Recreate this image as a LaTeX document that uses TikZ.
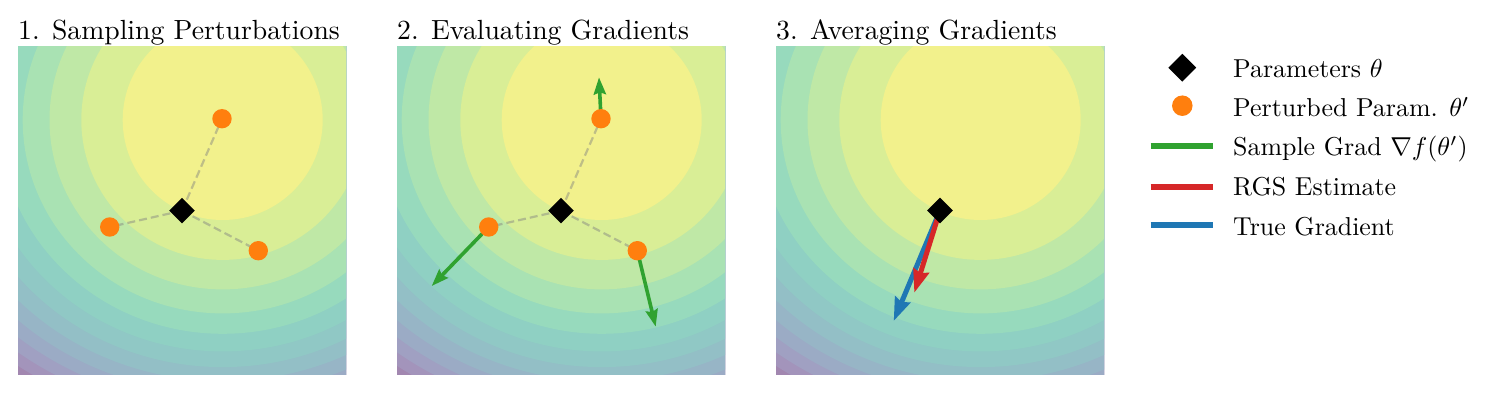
\documentclass[tikz,border=0pt]{standalone}
\usepackage{graphicx}
\usetikzlibrary{arrows.meta,shapes.geometric}
\definecolor{b1}{RGB}{242,241,140}
\definecolor{b2}{RGB}{217,238,150}
\definecolor{b3}{RGB}{191,232,166}
\definecolor{b4}{RGB}{169,226,179}
\definecolor{b5}{RGB}{151,218,189}
\definecolor{b6}{RGB}{143,208,195}
\definecolor{b7}{RGB}{144,200,197}
\definecolor{b8}{RGB}{147,191,198}
\definecolor{b9}{RGB}{151,181,198}
\definecolor{b10}{RGB}{155,171,197}
\definecolor{b11}{RGB}{160,160,194}
\definecolor{b12}{RGB}{163,148,187}
\definecolor{b13}{RGB}{162,135,176}
\definecolor{mplorange}{RGB}{255,127,14}
\definecolor{mplgreen}{RGB}{48,162,48}
\definecolor{mplred}{RGB}{214,39,40}
\definecolor{mplblue}{RGB}{31,119,180}
\newcommand{\ttlbox}[1]{\scalebox{2.77}{\fontsize{10}{12}\selectfont #1}}
\newcommand{\legbox}[1]{\scalebox{2.59}{\fontsize{10}{12}\selectfont #1}}
\tikzset{
  thetanode/.style={diamond,fill=black,inner sep=0pt,minimum width=25.7pt,minimum height=25.7pt},
  pertnode/.style={circle,fill=mplorange,inner sep=0pt,minimum size=19.4pt},
  dashline/.style={draw=gray,opacity=0.45,line width=2.2pt,dash pattern=on 8pt off 4pt},
  gradarrow/.style={draw=mplgreen,line width=3.6pt,-{Stealth[length=17pt,width=12pt,inset=2pt]}},
  estarrow/.style={line width=5pt,-{Stealth[length=23pt,width=16pt,inset=2.5pt]}},
  titletext/.style={anchor=base west,inner sep=0pt},
  legtext/.style={anchor=base west,inner sep=0pt},
  legline/.style={line width=6pt}
}
\begin{document}
\begin{tikzpicture}[x=1pt,y=-1pt]
\useasboundingbox (0,0) rectangle (1494,393);
% contour panels
\foreach \px in {18,397,776}{
  \begin{scope}[shift={(\px,47)}]
    \clip (0,0) rectangle (328,327);
    \fill[b13] (-1,-1) rectangle (329,328);
    \foreach \rx/\ry/\c in {346.4/304.7/b12,331.7/295.2/b11,316.2/284.9/b10,300/273.6/b9,282.8/261.0/b8,264.6/247.1/b7,244.9/231.4/b6,223.6/213.8/b5,200/193.4/b4,173.2/169.4/b3,141.4/139.9/b2,100/100/b1}{
      \fill[\c] (204.7,73) ellipse [x radius=\rx pt, y radius=\ry pt];
    }
  \end{scope}
}
% titles
\node[titletext] (title1) at (18,39.3) {\ttlbox{1. Sampling Perturbations}};
\node[titletext] (title2) at (397,39.3) {\ttlbox{2. Evaluating Gradients}};
\node[titletext] (title3) at (776,39.3) {\ttlbox{3. Averaging Gradients}};
% coordinates
\coordinate (t1) at (182,210.7);
\coordinate (p1a) at (222,118.7);
\coordinate (p1b) at (109.7,227);
\coordinate (p1c) at (258.3,250.7);
\coordinate (t2) at (561,210.7);
\coordinate (p2a) at (601,118.7);
\coordinate (p2b) at (488.7,227);
\coordinate (p2c) at (637.3,250.7);
\coordinate (g2a) at (599,77.3);
\coordinate (g2b) at (431.7,286);
\coordinate (g2c) at (655.7,326.7);
\coordinate (t3) at (940,210.5);
\coordinate (r3) at (914.3,292.7);
\coordinate (b3) at (893.7,321);
% panel 1
\draw[dashline] (t1) -- (p1a);
\draw[dashline] (t1) -- (p1b);
\draw[dashline] (t1) -- (p1c);
\node[pertnode] (n1a) at (p1a) {};
\node[pertnode] (n1b) at (p1b) {};
\node[pertnode] (n1c) at (p1c) {};
\node[thetanode] (n1t) at (t1) {};
% panel 2
\draw[dashline] (t2) -- (p2a);
\draw[dashline] (t2) -- (p2b);
\draw[dashline] (t2) -- (p2c);
\draw[gradarrow] (p2a) -- (g2a);
\draw[gradarrow] (p2b) -- (g2b);
\draw[gradarrow] (p2c) -- (g2c);
\node[pertnode] (n2a) at (p2a) {};
\node[pertnode] (n2b) at (p2b) {};
\node[pertnode] (n2c) at (p2c) {};
\node[thetanode] (n2t) at (t2) {};
% panel 3
\draw[estarrow,draw=mplblue] (t3) -- (b3);
\draw[estarrow,draw=mplred] (t3) -- (r3);
\node[thetanode] (n3t) at (t3) {};
% legend
\node[thetanode,minimum width=28pt,minimum height=28pt] (legd) at (1182.3,67.7) {};
\node[pertnode,minimum size=20.5pt] (lego) at (1182.3,105.7) {};
\coordinate (lg1) at (1150.7,146);
\coordinate (lg2) at (1213.3,146);
\coordinate (lr1) at (1150.7,186.7);
\coordinate (lr2) at (1213.3,186.7);
\coordinate (lb1) at (1150.7,225.3);
\coordinate (lb2) at (1213.3,225.3);
\draw[legline,draw=mplgreen] (lg1) -- (lg2);
\draw[legline,draw=mplred] (lr1) -- (lr2);
\draw[legline,draw=mplblue] (lb1) -- (lb2);
\node[legtext] (lt1) at (1233,77.7) {\legbox{Parameters $\theta$}};
\node[legtext] (lt2) at (1233,116.5) {\legbox{Perturbed Param. $\theta'$}};
\node[legtext] (lt3) at (1233,156) {\legbox{Sample Grad $\nabla f(\theta')$}};
\node[legtext] (lt4) at (1233,195.5) {\legbox{RGS Estimate}};
\node[legtext] (lt5) at (1233,235) {\legbox{True Gradient}};
\end{tikzpicture}
\end{document}
